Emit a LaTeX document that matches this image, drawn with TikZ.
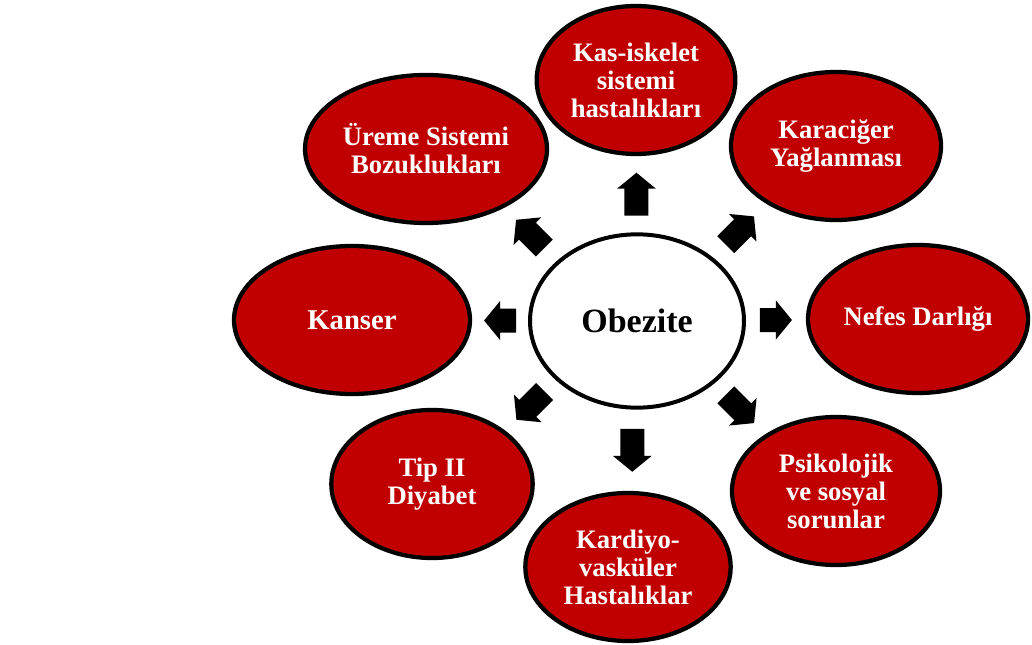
\documentclass[tikz,border=0pt]{standalone}
\usepackage{fontspec}
\setmainfont{Liberation Serif}
\usepackage{xcolor}
\usetikzlibrary{shapes.geometric}

\definecolor{koyukirmizi}{RGB}{192,0,0}

\tikzset{
  hastalik/.style={ellipse, draw=black, line width=3.2pt, fill=koyukirmizi, text=white,
    font=\fontsize{20}{21}\selectfont\bfseries, align=center, inner sep=0pt, minimum height=111pt},
  merkez/.style={ellipse, draw=black, line width=3pt, fill=white,
    font=\fontsize{25.5}{27}\selectfont\bfseries, inner sep=0pt, minimum width=160.5pt, minimum height=130pt}
}

% block arrow: center, angle (clockwise, pixel frame), length
\newcommand{\blokok}[3]{%
  \fill [black, shift={(#1)}, rotate=#2] (-#3/2,-12) -- (#3/2-16,-12) -- (#3/2-16,-19.5) -- (#3/2,0)
    -- (#3/2-16,19.5) -- (#3/2-16,12) -- (-#3/2,12) -- cycle;}

\begin{document}
\begin{tikzpicture}[x=0.75pt,y=0.75pt,yscale=-1,xscale=1]
\useasboundingbox (0,0) rectangle (1032,645);

% Center Ellipse
\node [merkez] (obz) at (637,321) {Obezite};

% Outer Ellipses
\node [hastalik, minimum width=149pt] (kas) at (636,80) {Kas-iskelet\\sistemi\\hastalıkları};
\node [hastalik, minimum width=157.5pt] (kar) at (836,146) {Karaciğer\\Yağlanması};
\node [hastalik, minimum width=165pt] (nef) at (918,319) {Nefes Darlığı};
\node [hastalik, minimum width=156pt] (psi) at (836,491) {Psikolojik\\ve sosyal\\sorunlar};
\node [hastalik, minimum width=154pt] (kdv) at (628,567) {Kardiyo-\\vasküler\\Hastalıklar};
\node [hastalik, minimum width=151pt] (tip) at (432,484) {Tip II\\Diyabet};
\node [hastalik, minimum width=177pt, font=\fontsize{21.5}{23}\selectfont\bfseries] (kan) at (352,320) {Kanser};
\node [hastalik, minimum width=181.5pt] (ure) at (426,149) {Üreme Sistemi\\Bozuklukları};

% Block Arrows (midway between the borders)
\path (obz) -- (kas) coordinate [midway] (okkas);
\path (obz) -- (kar) coordinate [midway] (okkar);
\path (obz) -- (nef) coordinate [midway] (oknef);
\path (obz) -- (psi) coordinate [midway] (okpsi);
\path (obz) -- (kdv) coordinate [midway] (okkdv);
\path (obz) -- (tip) coordinate [midway] (oktip);
\path (obz) -- (kan) coordinate [midway] (okkan);
\path (obz) -- (ure) coordinate [midway] (okure);

\blokok{okkas}{-90}{43}
\blokok{okkar}{-45}{40}
\blokok{oknef}{0}{32}
\blokok{okpsi}{45}{40}
\blokok{okkdv}{90}{43}
\blokok{oktip}{135}{40}
\blokok{okkan}{180}{32}
\blokok{okure}{-135}{40}
\end{tikzpicture}
\end{document}
